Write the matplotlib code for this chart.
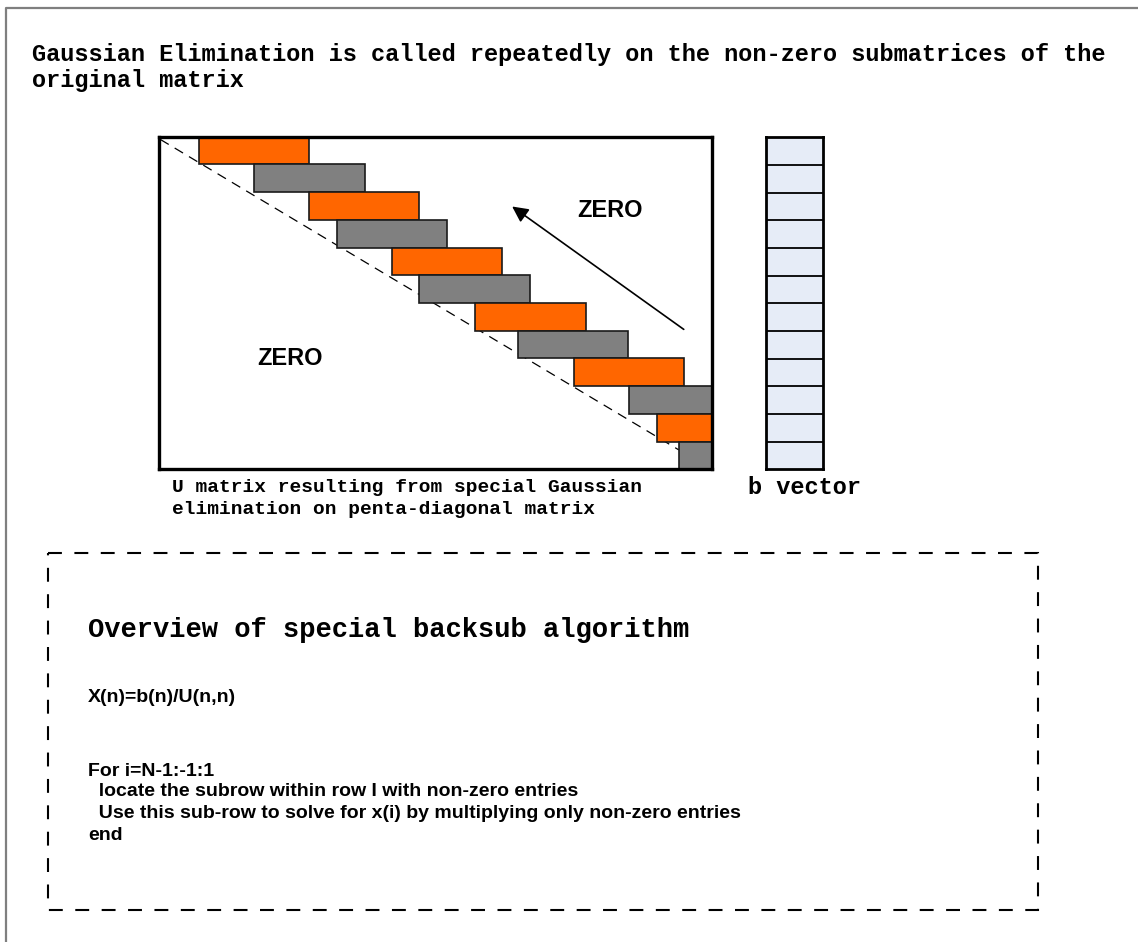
import matplotlib.pyplot as plt
from matplotlib.patches import Rectangle

plt.rcParams['lines.scale_dashes'] = False

W, H = 1138, 942

# --- dati del diagramma ---
# matrice U: 12 righe x 20 colonne, una banda per riga (arancio / grigio alternati)
n_rows = 12
n_cols = 20
band_start = [1.44, 3.44, 5.42, 6.42, 8.41, 9.41, 11.43, 12.98, 15.0, 17.0, 18.0, 18.8]
band_width = [4.0, 4.0, 4.0, 4.0, 4.0, 4.0, 4.0, 4.0, 4.0, 4.0, 4.0, 4.0]
band_kind = ['orange', 'gray'] * 6
b_cells = 12

title_lines = ["Gaussian Elimination is called repeatedly on the non-zero submatrices of the",
               "original matrix"]
caption_lines = ["U matrix resulting from special Gaussian",
                 "elimination on penta-diagonal matrix"]
algo_title = "Overview of special backsub algorithm"
algo_lines = ["X(n)=b(n)/U(n,n)",
              "For i=N-1:-1:1",
              "  locate the subrow within row I with non-zero entries",
              "  Use this sub-row to solve for x(i) by multiplying only non-zero entries",
              "end"]
algo_y = [697, 771, 792, 813, 835]

colors = {'orange': '#FF6600', 'gray': '#808080'}
mono = 'Liberation Mono'
sans = 'Liberation Sans'

fig = plt.figure(figsize=(W / 100, H / 100), dpi=100)
ax = fig.add_axes([0, 0, 1, 1])
ax.set_xlim(0, W)
ax.set_ylim(H, 0)
ax.axis('off')

# cornice esterna grigia
ax.plot([6, 6, W], [H, 8, 8], color='#7f7f7f', lw=1.6, solid_capstyle='butt')

# titolo
for i, line in enumerate(title_lines):
    ax.text(32, 55 + i * 25, line, family=mono, weight='bold', fontsize=17,
            va='center', ha='left')

# didascalie
for i, line in enumerate(caption_lines):
    ax.text(172, 487 + i * 22, line, family=mono, weight='bold', fontsize=14,
            va='center', ha='left')
ax.text(748, 487, "b vector", family=mono, weight='bold', fontsize=17,
        va='center', ha='left')

# riquadro tratteggiato con l'algoritmo
ax.add_patch(Rectangle((48, 553), 1038 - 48, 910 - 553, fill=False, ec='black',
                       lw=1.5, ls=(0, (10, 9))))
ax.text(88, 630, algo_title, family=mono, weight='bold', fontsize=19.5,
        va='center', ha='left')
for line, yy in zip(algo_lines, algo_y):
    ax.text(88, yy, line, family=sans, weight='bold', fontsize=14,
            va='center', ha='left')

# --- matrice U (assi propri in unita' di colonne/righe) ---
mx0, my0, mx1, my1 = 159, 136.7, 712, 469.3
axm = fig.add_axes([mx0 / W, 1 - my1 / H, (mx1 - mx0) / W, (my1 - my0) / H])
axm.set_xlim(0, n_cols)
axm.set_ylim(n_rows, 0)
axm.set_xticks([])
axm.set_yticks([])
for s in axm.spines.values():
    s.set_linewidth(2.4)
    s.set_zorder(5)

for r in range(n_rows):
    axm.add_patch(Rectangle((band_start[r], r), band_width[r], 1,
                            fc=colors[band_kind[r]], ec='#1a1a1a', lw=1.2, zorder=3))

axm.plot([0.05, 18.8], [0.1, 11.3], color='black', lw=0.9, ls=(0, (7, 5)), zorder=2)
axm.annotate('', xy=(12.69, 2.46), xytext=(19.06, 7.01),
             arrowprops=dict(arrowstyle='-|>', color='black', lw=1.2, mutation_scale=24))
axm.text(16.3, 2.65, "ZERO", family=sans, weight='bold', fontsize=17,
         ha='center', va='center')
axm.text(4.74, 8.0, "ZERO", family=sans, weight='bold', fontsize=17,
         ha='center', va='center')

# --- vettore b ---
bx0, by0, bx1, by1 = 766, 137.3, 823, 469.3
axb = fig.add_axes([bx0 / W, 1 - by1 / H, (bx1 - bx0) / W, (by1 - by0) / H])
axb.set_xlim(0, 1)
axb.set_ylim(b_cells, 0)
axb.set_xticks([])
axb.set_yticks([])
axb.set_facecolor('#E6ECF7')
for s in axb.spines.values():
    s.set_linewidth(2.0)
for k in range(1, b_cells):
    axb.axhline(k, color='black', lw=1.3)

fig.savefig('out.png', dpi=100)
